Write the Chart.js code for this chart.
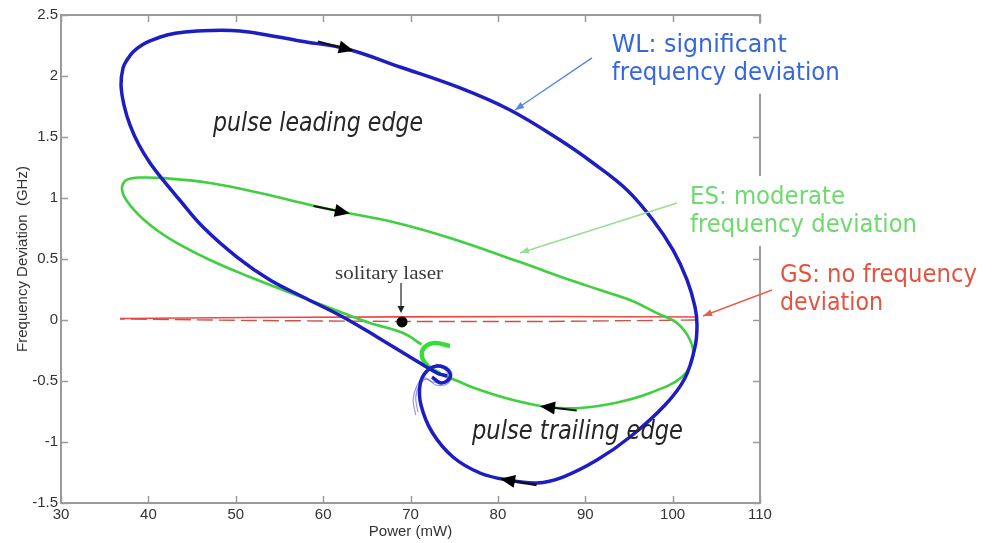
<!DOCTYPE html>
<html>
<head>
<meta charset="utf-8">
<script src="https://cdn.jsdelivr.net/npm/chart.js@4.4.1/dist/chart.umd.min.js"></script>
<style>
  html, body { margin: 0; padding: 0; background: #fff; }
  #wrap { width: 998px; height: 543px; }
</style>
</head>
<body>
<div id="wrap"><canvas id="c" width="998" height="543"></canvas></div>
<script>
// Axis ticks
const xTicks = [30, 40, 50, 60, 70, 80, 90, 100, 110];
const yTicks = [-1.5, -1, -0.5, 0, 0.5, 1, 1.5, 2, 2.5];

// WL trajectory: power (mW) vs frequency deviation (GHz)
const wlPower = [74.18, 73.03, 69.94, 66.17, 62.27, 57.70, 53.92, 50.14, 46.25, 43.39, 41.67, 40.19, 38.93, 37.90, 37.21, 36.87, 37.10, 37.55, 38.24, 39.27, 40.19, 42.13, 44.19, 47.05, 50.49, 53.58, 57.35, 62.73, 68.80, 75.67, 81.39, 87.11, 90.89, 94.78, 97.75, 100.04, 101.65, 102.56, 102.79, 102.56, 101.42, 99.13, 95.12, 91.34, 87.45, 84.48, 81.04, 77.95, 74.86, 72.46, 71.20, 71.09, 71.77, 73.03, 74.29, 74.52, 73.49, 72.46];
const wlFreq  = [-0.459, -0.434, -0.303, -0.139, 0.025, 0.189, 0.328, 0.516, 0.762, 1.000, 1.148, 1.287, 1.434, 1.598, 1.762, 1.926, 2.066, 2.131, 2.197, 2.254, 2.287, 2.336, 2.361, 2.373, 2.369, 2.336, 2.287, 2.221, 2.074, 1.902, 1.721, 1.475, 1.287, 1.066, 0.820, 0.574, 0.328, 0.107, -0.041, -0.221, -0.475, -0.697, -0.959, -1.148, -1.287, -1.336, -1.311, -1.254, -1.123, -0.918, -0.697, -0.533, -0.426, -0.377, -0.410, -0.475, -0.516, -0.467];
const wlArrowIdx = [27, 46];

// WL transient turns around the settling point
const wlTurnAPower = [72.91, 74.16, 74.74, 74.16, 72.91, 71.88, 71.08, 70.60, 70.85];
const wlTurnAFreq  = [-0.361, -0.385, -0.451, -0.525, -0.533, -0.484, -0.525, -0.631, -0.754];
const wlTurnBPower = [72.45, 73.71, 74.28, 73.71, 72.56, 71.53, 70.72, 70.30, 70.60];
const wlTurnBFreq  = [-0.377, -0.393, -0.459, -0.508, -0.508, -0.475, -0.541, -0.656, -0.779];

// ES trajectory
const esPower = [71.26, 69.14, 65.36, 62.27, 59.30, 55.41, 51.63, 47.05, 43.28, 41.10, 39.38, 38.35, 37.55, 37.10, 36.98, 37.32, 38.01, 39.04, 41.67, 47.05, 52.78, 58.50, 62.27, 68.00, 74.52, 82.53, 88.25, 91.69, 95.12, 98.21, 100.50, 101.99, 102.33, 101.07, 97.41, 93.40, 89.40, 85.62, 81.73, 77.95, 75.09, 73.38];
const esFreq  = [-0.200, -0.107, -0.025, 0.057, 0.139, 0.246, 0.352, 0.492, 0.631, 0.730, 0.828, 0.902, 0.975, 1.033, 1.090, 1.139, 1.160, 1.168, 1.164, 1.123, 1.041, 0.943, 0.885, 0.803, 0.672, 0.475, 0.328, 0.246, 0.164, 0.057, -0.025, -0.164, -0.303, -0.467, -0.598, -0.680, -0.721, -0.713, -0.656, -0.574, -0.492, -0.443];
const esArrowIdx = [22, 37];
const esHookPower = [73.38, 71.99, 71.30, 71.65, 72.79, 74.51];
const esHookFreq  = [-0.443, -0.377, -0.295, -0.221, -0.189, -0.213];

// GS trajectory (flat, out and back)
const gsOutPower  = [36.75, 51.62, 68.79, 85.95, 102.77];
const gsOutFreq   = [0.012, 0.020, 0.026, 0.029, 0.025];
const gsBackPower = [102.77, 85.95, 68.79, 51.62, 36.75];
const gsBackFreq  = [0.000, -0.012, -0.012, -0.004, 0.008];

// Free-running operating point
const soloPower = [69.03];
const soloFreq  = [-0.016];

const pts = (xs, ys) => xs.map((x, i) => ({ x, y: ys[i] }));

const line = (xs, ys, color, width, order, extra) => Object.assign({
  data: pts(xs, ys), showLine: true, borderColor: color, borderWidth: width,
  pointRadius: 0, tension: 0.38, fill: false, order
}, extra || {});

// Text annotations (anchored in data units, left/baseline)
const textNotes = [
  { lines: ['WL: significant', 'frequency deviation'], at: [93.03, 2.199], widths: [175, 228], color: '#3767dd', blank: true },
  { lines: ['ES: moderate', 'frequency deviation'], at: [101.99, 0.951], widths: [155, 227], color: '#6fd86f', blank: true },
  { lines: ['GS: no frequency', 'deviation'], at: [112.29, 0.311], widths: [197, 103], color: '#e5533f', blank: false }
];
const pointers = [
  { from: [90.77, 2.148], to: [81.96, 1.721], color: '#5a86e8' },
  { from: [100.50, 0.959], to: [82.53, 0.549], color: '#96de96' },
  { from: [111.37, 0.246], to: [103.48, 0.033], color: '#ec5e4c' }
];
const phaseLabels = [
  { text: 'pulse leading edge', at: [47.40, 1.549], width: 210 },
  { text: 'pulse trailing edge', at: [77.04, -0.975], width: 211 }
];

function fitText(ctx, str, x, y, width, font, color) {
  ctx.save();
  ctx.font = font;
  ctx.textBaseline = 'alphabetic';
  ctx.textAlign = 'left';
  const m = ctx.measureText(str).width;
  ctx.translate(x, y);
  ctx.scale(width / m, 1);
  ctx.fillStyle = color;
  ctx.fillText(str, 0, 0);
  ctx.restore();
}

function arrowHead(ctx, tx, ty, ang, len, half, color) {
  ctx.save();
  ctx.fillStyle = color;
  ctx.beginPath();
  ctx.moveTo(tx, ty);
  ctx.lineTo(tx - len * Math.cos(ang) - half * Math.sin(ang), ty - len * Math.sin(ang) + half * Math.cos(ang));
  ctx.lineTo(tx - len * Math.cos(ang) + half * Math.sin(ang), ty - len * Math.sin(ang) - half * Math.cos(ang));
  ctx.closePath();
  ctx.fill();
  ctx.restore();
}

// tangent direction of the drawn spline at a point element
function tangentAngle(meta, i) {
  const p = meta.data[i];
  if (p.cp1x !== undefined && p.cp2x !== undefined && (p.cp2x !== p.cp1x || p.cp2y !== p.cp1y)) {
    return Math.atan2(p.cp2y - p.cp1y, p.cp2x - p.cp1x);
  }
  const a = meta.data[i - 1], b = meta.data[i + 1];
  return Math.atan2(b.y - a.y, b.x - a.x);
}

const decor = {
  id: 'decor',
  beforeDatasetsDraw(chart) {
    const { ctx, chartArea: a, scales: { x, y } } = chart;
    ctx.save();
    ctx.strokeStyle = '#9b9b9b';
    ctx.lineWidth = 2;
    ctx.strokeRect(a.left, a.top, a.right - a.left, a.bottom - a.top);
    ctx.lineWidth = 1.5;
    ctx.beginPath();
    xTicks.forEach(v => {
      const px = Math.round(x.getPixelForValue(v)) + 0.5;
      ctx.moveTo(px, a.bottom); ctx.lineTo(px, a.bottom - 7);
      ctx.moveTo(px, a.top); ctx.lineTo(px, a.top + 7);
    });
    yTicks.forEach(v => {
      const py = Math.round(y.getPixelForValue(v)) + 0.5;
      ctx.moveTo(a.left, py); ctx.lineTo(a.left + 7, py);
      ctx.moveTo(a.right, py); ctx.lineTo(a.right - 7, py);
    });
    ctx.stroke();
    ctx.restore();
  },
  afterDatasetsDraw(chart) {
    const { ctx, scales: { x, y } } = chart;
    const P = (d) => [x.getPixelForValue(d[0]), y.getPixelForValue(d[1])];

    // direction arrows along the WL and ES loops
    const marks = [[chart.getDatasetMeta(0), wlArrowIdx], [chart.getDatasetMeta(3), esArrowIdx]];
    marks.forEach(([meta, idxs]) => {
      idxs.forEach(i => {
        const p = meta.data[i];
        const ang = tangentAngle(meta, i);
        ctx.save();
        ctx.strokeStyle = '#111';
        ctx.lineWidth = 2.2;
        ctx.beginPath();
        ctx.moveTo(p.x - 30 * Math.cos(ang), p.y - 30 * Math.sin(ang));
        ctx.lineTo(p.x, p.y);
        ctx.stroke();
        ctx.restore();
        arrowHead(ctx, p.x + 7 * Math.cos(ang), p.y + 7 * Math.sin(ang), ang, 15, 6.5, '#000');
      });
    });

    // white panels behind the side notes
    textNotes.forEach(n => {
      if (!n.blank) return;
      const [tx, ty] = P(n.at);
      ctx.fillStyle = '#fff';
      ctx.fillRect(tx - 8, ty - 28, Math.max(...n.widths) + 16, 28 + 28 + 14);
    });

    // pointer lines to the curves
    pointers.forEach(pt => {
      const [x0, y0] = P(pt.from), [x1, y1] = P(pt.to);
      ctx.save();
      ctx.strokeStyle = pt.color;
      ctx.lineWidth = 1.4;
      ctx.beginPath(); ctx.moveTo(x0, y0); ctx.lineTo(x1, y1); ctx.stroke();
      ctx.restore();
      arrowHead(ctx, x1, y1, Math.atan2(y1 - y0, x1 - x0), 9, 3.5, pt.color);
    });

    // side notes
    textNotes.forEach(n => {
      const [tx, ty] = P(n.at);
      n.lines.forEach((s, k) => fitText(ctx, s, tx, ty + k * 28, n.widths[k], '25px "DejaVu Sans"', n.color));
    });

    // phase labels
    phaseLabels.forEach(l => {
      const [tx, ty] = P(l.at);
      fitText(ctx, l.text, tx, ty, l.width, 'italic 26px "DejaVu Sans"', '#262626');
    });

    // free-running point label and arrow
    const [sx, sy] = P([soloPower[0], soloFreq[0]]);
    fitText(ctx, 'solitary laser', sx - 67, sy - 43, 108, '18px "Liberation Serif"', '#3a3a3a');
    ctx.save();
    ctx.strokeStyle = '#222';
    ctx.lineWidth = 1.2;
    ctx.beginPath(); ctx.moveTo(sx - 1, sy - 39); ctx.lineTo(sx - 1, sy - 14); ctx.stroke();
    ctx.restore();
    arrowHead(ctx, sx - 1, sy - 9, Math.PI / 2, 7, 3.5, '#222');
  }
};

const tickFont = { family: '"Liberation Sans", Arial, sans-serif', size: 15 };

new Chart(document.getElementById('c'), {
  type: 'scatter',
  data: {
    datasets: [
      line(wlPower, wlFreq, '#1d1dc2', 3.5, 1),
      line(wlTurnAPower, wlTurnAFreq, 'rgba(80,80,225,0.6)', 1.2, 1),
      line(wlTurnBPower, wlTurnBFreq, 'rgba(80,80,225,0.6)', 1.2, 1),
      line(esPower, esFreq, '#3fcf3f', 2.6, 2),
      line(esHookPower, esHookFreq, '#35dd35', 4.5, 2),
      line(gsOutPower, gsOutFreq, '#ef4747', 1.6, 3, { tension: 0 }),
      line(gsBackPower, gsBackFreq, '#c9524a', 1.4, 3, { tension: 0, borderDash: [16, 6] }),
      { data: pts(soloPower, soloFreq), showLine: false, pointRadius: 5.5, pointBackgroundColor: '#000', pointBorderWidth: 0, order: 0 }
    ]
  },
  options: {
    responsive: false,
    animation: false,
    devicePixelRatio: 1,
    layout: { padding: { left: 0, right: 238, top: 15, bottom: 0 } },
    plugins: { legend: { display: false }, tooltip: { enabled: false } },
    events: [],
    scales: {
      x: {
        type: 'linear', min: 30, max: 110,
        grid: { display: false, drawTicks: false },
        border: { display: false },
        ticks: { font: tickFont, color: '#333', padding: 3, maxRotation: 0, autoSkip: false, callback: v => String(v) },
        afterBuildTicks: s => { s.ticks = xTicks.map(v => ({ value: v })); },
        afterFit: s => { s.height = 40; },
        title: { display: true, text: 'Power (mW)', font: tickFont, color: '#333', padding: { top: 0, bottom: 2 } }
      },
      y: {
        type: 'linear', min: -1.5, max: 2.5,
        grid: { display: false, drawTicks: false },
        border: { display: false },
        ticks: { font: tickFont, color: '#333', padding: 3, autoSkip: false, callback: v => String(v) },
        afterBuildTicks: s => { s.ticks = yTicks.map(v => ({ value: v })); },
        afterFit: s => { s.width = 61; },
        title: { display: true, text: 'Frequency Deviation  (GHz)', font: tickFont, color: '#333', padding: { top: 14, bottom: 0 } }
      }
    }
  },
  plugins: [decor]
});
</script>
</body>
</html>
